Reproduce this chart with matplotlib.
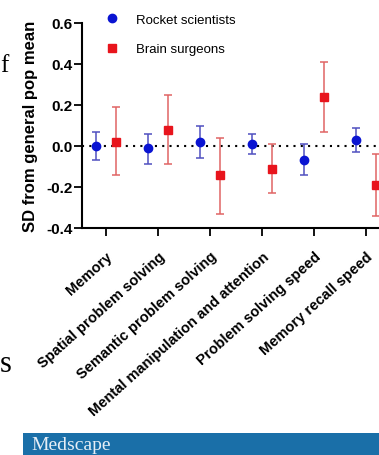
import numpy as np
import matplotlib
matplotlib.use("Agg")
import matplotlib.pyplot as plt
from matplotlib.lines import Line2D
from matplotlib.patches import Rectangle

# Données
categories = ["Memory", "Spatial problem solving", "Semantic problem solving",
              "Mental manipulation and attention", "Problem solving speed",
              "Memory recall speed"]
rocket_mean = [0.00, -0.01, 0.02, 0.01, -0.07, 0.03]
rocket_low = [-0.07, -0.09, -0.06, -0.04, -0.14, -0.03]
rocket_high = [0.07, 0.06, 0.10, 0.06, 0.01, 0.09]
brain_mean = [0.02, 0.08, -0.14, -0.11, 0.24, -0.19]
brain_low = [-0.14, -0.09, -0.33, -0.23, 0.07, -0.34]
brain_high = [0.19, 0.25, 0.04, 0.01, 0.41, -0.04]
y_ticks = [-0.4, -0.2, 0.0, 0.2, 0.4, 0.6]

W, H = 379, 456
fig = plt.figure(figsize=(W / 100, H / 100), dpi=100)
plt.rcParams['font.family'] = ['Liberation Sans', 'DejaVu Sans']

# Position de l'axe en pixels
left_px, right_px, top_px, bot_px = 82, 379, 24, 229
ax = fig.add_axes([left_px / W, 1 - bot_px / H, (right_px - left_px) / W,
                   (bot_px - top_px) / H])

x = np.arange(len(categories))
off = 0.19
blue = "#0a14d2"
red = "#e8141c"

rm = np.array(rocket_mean)
bm = np.array(brain_mean)
ax.errorbar(x - off, rm, yerr=[rm - np.array(rocket_low), np.array(rocket_high) - rm],
            fmt='o', color=blue, ecolor="#5050c0", elinewidth=1.1, capsize=3,
            capthick=1.1, markersize=6, zorder=3)
ax.errorbar(x + off, bm, yerr=[bm - np.array(brain_low), np.array(brain_high) - bm],
            fmt='s', color=red, ecolor="#e06464", elinewidth=1.1, capsize=3,
            capthick=1.1, markersize=6, zorder=3)

ax.axhline(0, color='black', linestyle=(0, (1, 2.5)), linewidth=1.5, zorder=1)

ax.set_ylim(-0.4, 0.6)
ax.set_xlim((left_px - 106) / 52, (right_px - 106) / 52)
ax.set_yticks(y_ticks)
ax.set_yticklabels([f"{v:.1f}" for v in y_ticks], fontweight='bold', fontsize=11)
ax.set_xticks(x)
ax.set_xticklabels(categories, rotation=42, ha='right', rotation_mode='anchor',
                   fontweight='bold', fontsize=10.5)
ax.tick_params(axis='both', direction='out', length=6, width=1.3)
ax.tick_params(axis='y', pad=1)
ax.tick_params(axis='x', pad=9)
for s in ['top', 'right']:
    ax.spines[s].set_visible(False)
for s in ['left', 'bottom']:
    ax.spines[s].set_linewidth(1.5)
ax.set_ylabel("SD from general pop mean", fontweight='bold', fontsize=12, labelpad=6)

handles = [Line2D([], [], marker='o', color=blue, linestyle='none', markersize=6),
           Line2D([], [], marker='s', color=red, linestyle='none', markersize=6)]
fig.legend(handles, ["Rocket scientists", "Brain surgeons"], loc='upper left',
           bbox_to_anchor=(92 / W, 1 - 8 / H), frameon=False, fontsize=9.5,
           borderpad=0, labelspacing=1.3, handletextpad=0.8, handlelength=2.0)

# Fragments de texte de l'article autour
fig.text(0.0, 1 - 72 / H, "f", family=['Liberation Serif', 'DejaVu Serif'],
         fontsize=18, va='baseline')
fig.text(0.0, 1 - 372 / H, "s", family=['Liberation Serif', 'DejaVu Serif'],
         fontsize=22, va='baseline')

# Bandeau Medscape
fig.patches.append(Rectangle((23 / W, 0), 1 - 23 / W, 22 / H, transform=fig.transFigure,
                             facecolor="#1a6fa8", edgecolor='none'))
fig.text(31 / W, 1 - 446 / H, "Medscape", family=['Liberation Serif', 'DejaVu Serif'],
         fontsize=14, color="#e6eef6", va='center')

fig.savefig("out.png", dpi=100)
